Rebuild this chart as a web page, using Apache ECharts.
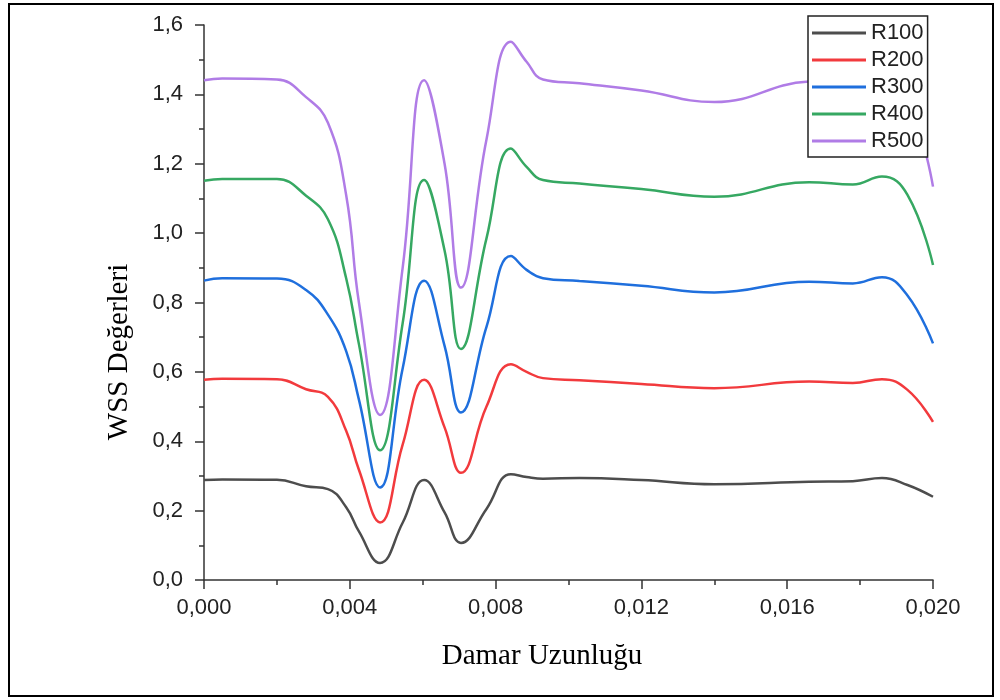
<!DOCTYPE html>
<html>
<head>
<meta charset="utf-8">
<script src="https://cdn.jsdelivr.net/npm/echarts@6/dist/echarts.min.js"></script>
<style>html,body{margin:0;padding:0;background:#fff}#c{width:1000px;height:700px}</style>
</head>
<body>
<div id="c"></div>
<script>
var xs = [0, 0.0005, 0.002, 0.0028, 0.0034, 0.0039, 0.00425, 0.00483, 0.00545, 0.00604, 0.0066, 0.00705, 0.00775, 0.00842, 0.00885, 0.0093, 0.0103, 0.012, 0.014, 0.0166, 0.0178, 0.0186, 0.0193, 0.02];
var r100 = [0.288, 0.290, 0.289, 0.270, 0.262, 0.210, 0.140, 0.049, 0.165, 0.288, 0.195, 0.107, 0.205, 0.305, 0.297, 0.292, 0.294, 0.288, 0.276, 0.283, 0.285, 0.294, 0.274, 0.240];
var r200 = [0.577, 0.580, 0.579, 0.550, 0.528, 0.430, 0.318, 0.166, 0.390, 0.577, 0.440, 0.309, 0.500, 0.622, 0.600, 0.582, 0.576, 0.565, 0.553, 0.572, 0.568, 0.579, 0.548, 0.456];
var r300 = [0.863, 0.870, 0.869, 0.836, 0.765, 0.660, 0.520, 0.267, 0.610, 0.863, 0.675, 0.483, 0.730, 0.934, 0.894, 0.870, 0.862, 0.848, 0.829, 0.860, 0.855, 0.873, 0.820, 0.682];
var r400 = [1.151, 1.156, 1.156, 1.108, 1.040, 0.870, 0.680, 0.374, 0.740, 1.153, 0.950, 0.666, 0.985, 1.244, 1.191, 1.153, 1.143, 1.127, 1.105, 1.147, 1.140, 1.163, 1.110, 0.908];
var r500 = [1.441, 1.446, 1.443, 1.392, 1.318, 1.110, 0.800, 0.476, 0.900, 1.441, 1.200, 0.843, 1.270, 1.552, 1.494, 1.443, 1.432, 1.411, 1.378, 1.437, 1.440, 1.455, 1.390, 1.134];
var names = ['R100', 'R200', 'R300', 'R400', 'R500'];
var colors = ['#4d4d4d', '#f23a3d', '#1f6fdd', '#36a862', '#b07ce6'];

var all = [r100, r200, r300, r400, r500];
function pairs(ys) { return xs.map(function (x, i) { return [x, ys[i]]; }); }
var series = all.map(function (ys, k) {
  return {
    name: names[k], type: 'line', data: pairs(ys), smooth: 0.45, showSymbol: false,
    lineStyle: { color: colors[k], width: 2.5 }, itemStyle: { color: colors[k] }, z: 2
  };
});

var chart = echarts.init(document.getElementById('c'), null, { renderer: 'canvas' });
chart.setOption({
  animation: false,
  backgroundColor: '#fff',
  grid: { left: 204, right: 67, top: 25, bottom: 120 },
  xAxis: {
    type: 'value', min: 0, max: 0.02, interval: 0.004,
    axisLine: { show: true, onZero: false, lineStyle: { color: '#333', width: 1.5 } },
    axisTick: { show: true, inside: false, length: 9, lineStyle: { color: '#333', width: 1.5 } },
    minorTick: { show: true, splitNumber: 2, length: 5, lineStyle: { color: '#333', width: 1.5 } },
    splitLine: { show: false },
    axisLabel: { margin: 17, fontFamily: 'Liberation Sans, Arial', fontSize: 22, color: '#222',
      formatter: function (v) { return v.toFixed(3).replace('.', ','); } }
  },
  yAxis: {
    type: 'value', min: 0, max: 1.6, interval: 0.2,
    axisLine: { show: true, lineStyle: { color: '#333', width: 1.5 } },
    axisTick: { show: true, inside: false, length: 9, lineStyle: { color: '#333', width: 1.5 } },
    minorTick: { show: true, splitNumber: 2, length: 5, lineStyle: { color: '#333', width: 1.5 } },
    splitLine: { show: false },
    axisLabel: { margin: 21, fontFamily: 'Liberation Sans, Arial', fontSize: 22, color: '#222',
      formatter: function (v) { return v.toFixed(1).replace('.', ','); } }
  },
  legend: {
    data: names.map(function (n, k) { return { name: n, icon: 'rect', itemStyle: { color: colors[k] } }; }),
    orient: 'vertical', left: 808, top: 16,
    itemWidth: 54, itemHeight: 3, itemGap: 5,
    padding: [6, 4, 5, 4],
    backgroundColor: '#fff', borderColor: '#222', borderWidth: 1.5, borderRadius: 0,
    textStyle: { fontFamily: 'Liberation Sans, Arial', fontSize: 22, lineHeight: 22, color: '#222' },
    z: 10
  },
  graphic: [
    { type: 'rect', shape: { x: 9, y: 4, width: 984, height: 692 }, style: { fill: null, stroke: '#000', lineWidth: 2 }, z: 0 },
    { type: 'text', x: 542, y: 656, style: { text: 'Damar Uzunluğu', font: '29px "Liberation Serif", "Times New Roman", serif', fill: '#000', textAlign: 'center', textVerticalAlign: 'middle' } },
    { type: 'text', x: 119, y: 352, rotation: Math.PI / 2, style: { text: 'WSS Değerleri', font: '29px "Liberation Serif", "Times New Roman", serif', fill: '#000', textAlign: 'center', textVerticalAlign: 'middle' } }
  ],
  series: series
});
</script>
</body>
</html>
